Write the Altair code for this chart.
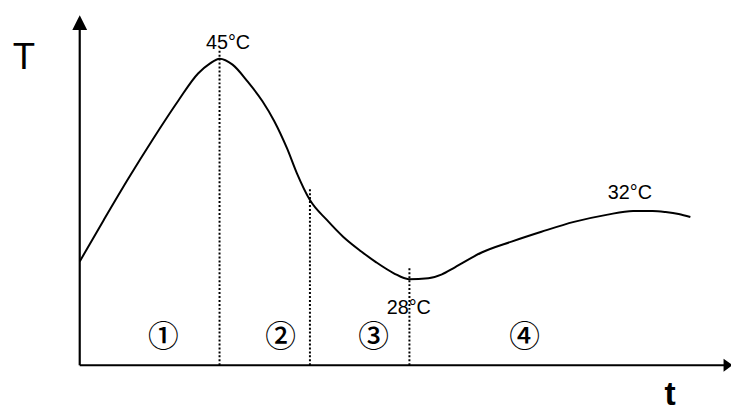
import altair as alt
import pandas as pd

# Temperature curve (time in arbitrary units, temperature in °C)
curve_t = [0.0, 3.7, 7.5, 11.3, 15.1, 18.2, 20.0, 21.5, 23.5, 25.8, 28.1, 29.9, 31.9,
           33.4, 35.4, 38.0, 40.5, 43.3, 45.6, 48.3, 50.6, 53.6, 55.7, 57.7, 61.8,
           66.4, 71.0, 76.0, 81.0, 85.1, 88.1, 90.1, 92.1, 93.9]
curve_T = [29.37, 32.57, 35.78, 38.83, 41.72, 43.86, 44.62, 45.0, 44.54, 43.25, 41.72,
           40.20, 38.06, 36.16, 34.10, 32.57, 31.28, 30.14, 29.30, 28.46, 28.0, 28.08,
           28.38, 28.92, 30.06, 30.90, 31.66, 32.42, 32.96, 33.26, 33.26, 33.18, 33.03, 32.80]

# Phase boundaries (dotted verticals): time and top temperature
bound_t = [21.5, 35.4, 50.7]
bound_top = [45.76, 35.09, 28.92]

# Temperature annotations
temp_labels = ["45°C", "32°C", "28°C"]
temp_label_t = [22.8, 84.6, 50.6]
temp_label_T = [45.76, 34.18, 25.33]

# Phase numbers
phase_labels = ["①", "②", "③", "④"]
phase_t = [12.85, 30.9, 45.2, 68.4]
phase_T = 23.5

# Axis extents
T_ORIGIN = 21.37
T_AXIS_TOP = 47.21
T_ARROW = 47.78
t_AXIS_END = 99.24
t_ARROW = 99.7

XS = alt.Scale(domain=[-11.03, 100.15], nice=False, zero=False)
YS = alt.Scale(domain=[17.86, 48.735], nice=False, zero=False)

def X(f="t"):
    return alt.X(f"{f}:Q", scale=XS, axis=None)

def Y(f="T"):
    return alt.Y(f"{f}:Q", scale=YS, axis=None)

curve_df = pd.DataFrame({"t": curve_t, "T": curve_T})
curve = alt.Chart(curve_df).mark_line(color="black", strokeWidth=2, interpolate="monotone").encode(
    x=X(), y=Y(), order="t:Q")

axes_df = pd.DataFrame({"t": [0, 0], "T": [T_ORIGIN, T_ORIGIN],
                        "t2": [0, t_AXIS_END], "T2": [T_AXIS_TOP, T_ORIGIN]})
axes = alt.Chart(axes_df).mark_rule(color="black", strokeWidth=2.2).encode(
    x=X(), y=Y(), x2="t2:Q", y2="T2:Q")

up_df = pd.DataFrame({"t": [0], "T": [T_ARROW]})
arrow_up = alt.Chart(up_df).mark_point(
    shape="M-1,1L1,1L0,-1Z", filled=True, color="black", opacity=1, size=225, strokeWidth=0
).encode(x=X(), y=Y())

right_df = pd.DataFrame({"t": [t_ARROW], "T": [T_ORIGIN]})
arrow_right = alt.Chart(right_df).mark_point(
    shape="M-0.7,-1L0.7,0L-0.7,1Z", filled=True, color="black", opacity=1, size=169, strokeWidth=0
).encode(x=X(), y=Y())

bound_df = pd.DataFrame({"t": bound_t, "T": [T_ORIGIN] * 3, "T2": bound_top})
bounds = alt.Chart(bound_df).mark_rule(color="black", strokeWidth=2, strokeDash=[2, 2]).encode(
    x=X(), y=Y(), y2="T2:Q")

temp_df = pd.DataFrame({"label": temp_labels, "t": temp_label_t, "T": temp_label_T})
temps = alt.Chart(temp_df).mark_text(
    font="Liberation Sans", fontSize=20, color="black", align="center", baseline="alphabetic"
).encode(x=X(), y=Y(), text="label:N")

phase_df = pd.DataFrame({"label": phase_labels, "t": phase_t, "T": [phase_T] * 4})
phases = alt.Chart(phase_df).mark_text(
    font="Noto Sans CJK JP", fontSize=31, fontWeight=500, color="black", align="center",
    baseline="middle"
).encode(x=X(), y=Y(), text="label:N")

T_df = pd.DataFrame({"label": ["T"], "t": [-8.59], "T": [44.24]})
T_lab = alt.Chart(T_df).mark_text(
    font="Liberation Sans", fontSize=37, color="black", align="center", baseline="alphabetic"
).encode(x=X(), y=Y(), text="label:N")

t_df = pd.DataFrame({"label": ["t"], "t": [90.8], "T": [18.3]})
t_lab = alt.Chart(t_df).mark_text(
    font="Liberation Sans", fontSize=34, fontWeight="bold", color="black", align="center",
    baseline="alphabetic"
).encode(x=X(), y=Y(), text="label:N")

chart = alt.layer(bounds, curve, axes, arrow_up, arrow_right, temps, phases, T_lab, t_lab).properties(
    width=731, height=405, padding=0, autosize=alt.AutoSizeParams(type="none"),
    background="white"
).configure_view(stroke=None)

chart.save("out.html", embed_options={"renderer": "svg", "actions": False})
